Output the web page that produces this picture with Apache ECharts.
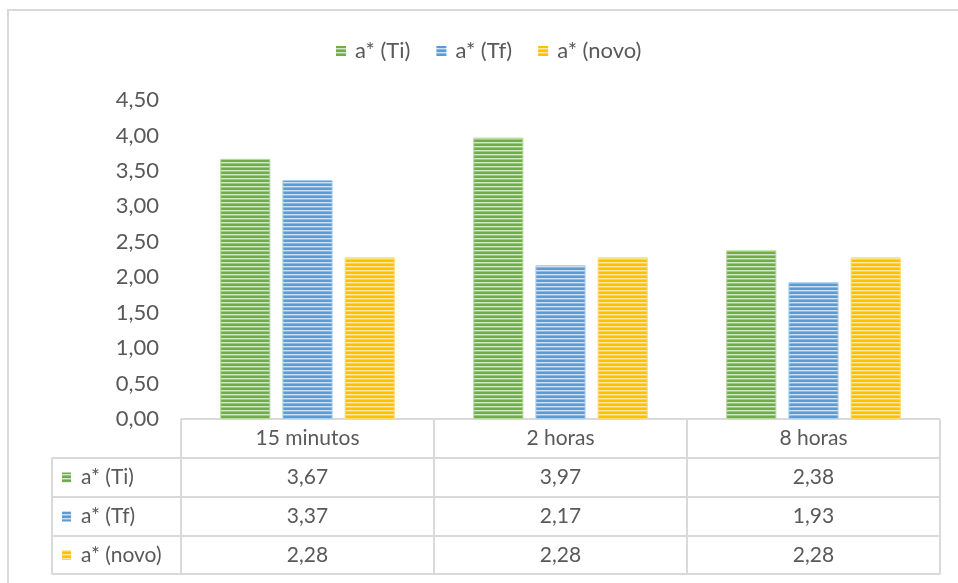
<!DOCTYPE html>
<html>
<head>
<meta charset="utf-8">
<script src="https://cdn.jsdelivr.net/npm/echarts@6/dist/echarts.min.js"></script>
<style>
  html, body { margin: 0; padding: 0; background: #ffffff; }
  #chart { width: 958px; height: 583px; }
</style>
</head>
<body>
<div id="chart"></div>
<script>
// Categories and series values
const categories = ['15 minutos', '2 horas', '8 horas'];
const seriesNames = ['a* (Ti)', 'a* (Tf)', 'a* (novo)'];
const valuesTi = [3.67, 3.97, 2.38];
const valuesTf = [3.37, 2.17, 1.93];
const valuesNovo = [2.28, 2.28, 2.28];

const seriesValues = [valuesTi, valuesTf, valuesNovo];

// Striped fills (horizontal line pattern) for each series
function stripePattern(dark, mid, light) {
  const c = document.createElement('canvas');
  c.width = 4; c.height = 4;
  const g = c.getContext('2d');
  g.fillStyle = dark;  g.fillRect(0, 0, 4, 2);
  g.fillStyle = light; g.fillRect(0, 2, 4, 1);
  g.fillStyle = mid;   g.fillRect(0, 3, 4, 1);
  return { image: c, repeat: 'repeat' };
}
const palettes = [
  { dark: '#70ad47', mid: '#9cc97e', light: '#d3e8c5', edge: '#b5d79f' },
  { dark: '#5b9bd5', mid: '#8dbae4', light: '#cde1f4', edge: '#a9cbec' },
  { dark: '#ffc000', mid: '#ffd24d', light: '#ffe9a3', edge: '#ffdc70' }
];
const fills = palettes.map(p => stripePattern(p.dark, p.mid, p.light));

const fmt = v => v.toFixed(2).replace('.', ',');

const FONT = 'Lato, "Open Sans", sans-serif';
const FS = 21;
const FS_AXIS = 22;
const TEXT = '#595959';
const LINE = '#d9d9d9';

// Layout of the plot and the data table below it
const plotLeft = 181, plotRight = 940, plotTop = 100, axisY = 419;
const tableLeft = 52;
const rowLines = [419, 458, 497, 536, 574];

const chart = echarts.init(document.getElementById('chart'), null, { renderer: 'canvas' });

const series = seriesNames.map((name, i) => ({
  name: name,
  type: 'bar',
  data: seriesValues[i],
  barGap: '24%',
  barCategoryGap: '31%',
  itemStyle: { color: fills[i], borderColor: palettes[i].edge, borderWidth: 1 },
  emphasis: { disabled: true }
}));

chart.setOption({
  animation: false,
  backgroundColor: '#ffffff',
  legend: {
    top: 35,
    left: 331,
    itemWidth: 10,
    itemHeight: 10,
    itemGap: 26,
    icon: 'rect',
    textStyle: { color: TEXT, fontFamily: FONT, fontSize: FS_AXIS, padding: [0, 0, 0, 4] },
    data: seriesNames.map((n, i) => ({ name: n, itemStyle: { color: fills[i], borderWidth: 0 } }))
  },
  grid: { left: plotLeft, right: 958 - plotRight, top: plotTop, bottom: 583 - axisY, containLabel: false },
  xAxis: {
    type: 'category',
    data: categories,
    axisLine: { show: false },
    axisTick: { show: false },
    axisLabel: { show: false },
    splitLine: { show: false }
  },
  yAxis: {
    type: 'value',
    min: 0,
    max: 4.5,
    interval: 0.5,
    axisLine: { show: false },
    axisTick: { show: false },
    splitLine: { show: false },
    axisLabel: {
      color: TEXT, fontFamily: FONT, fontSize: FS_AXIS, margin: 22,
      formatter: v => fmt(v)
    }
  },
  series: series
});

// Data table under the plot, positioned from the category axis
function buildTable() {
  const centers = categories.map((c, i) => chart.convertToPixel({ xAxisIndex: 0 }, i));
  const band = (plotRight - plotLeft) / categories.length;
  const colEdges = [plotLeft];
  for (let i = 1; i <= categories.length; i++) colEdges.push(Math.round(plotLeft + band * i));

  const els = [];
  const line = (x1, y1, x2, y2) => els.push({
    type: 'line', silent: true,
    shape: { x1, y1, x2, y2 },
    style: { stroke: LINE, lineWidth: 2 }
  });
  const text = (x, y, str, align) => els.push({
    type: 'text', silent: true,
    x, y,
    style: { text: str, fill: TEXT, font: FS + 'px ' + FONT, align: align || 'center', verticalAlign: 'middle' }
  });

  // outer frame of the chart area
  els.push({
    type: 'rect', silent: true,
    shape: { x: 8, y: 10, width: 980, height: 600 },
    style: { fill: 'none', stroke: LINE, lineWidth: 2 }
  });

  // horizontal rules
  line(plotLeft, rowLines[0], plotRight, rowLines[0]);
  for (let r = 1; r < rowLines.length; r++) line(tableLeft, rowLines[r], plotRight, rowLines[r]);
  // vertical rules
  line(tableLeft, rowLines[1], tableLeft, rowLines[rowLines.length - 1]);
  colEdges.forEach(x => line(x, rowLines[0], x, rowLines[rowLines.length - 1]));

  // header row
  categories.forEach((c, i) => text(centers[i], (rowLines[0] + rowLines[1]) / 2, c));

  // value rows with legend keys
  seriesNames.forEach((name, s) => {
    const cy = (rowLines[s + 1] + rowLines[s + 2]) / 2;
    els.push({
      type: 'rect', silent: true,
      shape: { x: 62, y: cy - 5, width: 9, height: 10 },
      style: { fill: fills[s] }
    });
    text(81, cy, name, 'left');
    seriesValues[s].forEach((v, i) => text(centers[i], cy, fmt(v)));
  });

  chart.setOption({ graphic: { elements: els } });
}
buildTable();
</script>
</body>
</html>
